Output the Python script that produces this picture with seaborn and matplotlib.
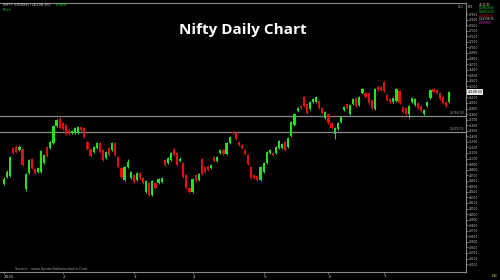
import numpy as np
import pandas as pd
import matplotlib
matplotlib.use("Agg")
import matplotlib.pyplot as plt
import seaborn as sns

# ---- data ----
opens = [24542, 24668, 24686, 25190, 25208, 25154, 25172, 24452, 24740, 24992,
         24812, 24758, 24758, 24920, 25208, 25190, 25280, 25586, 25712, 25640,
         25604, 25514, 25460, 25460, 25460, 25568, 25550, 25298, 25172, 25118,
         25190, 25280, 25154, 25010, 25190, 25154, 25280, 25028, 24830, 24614,
         24848, 24650, 24704, 24614, 24740, 24650, 24398, 24560, 24344, 24560,
         24560, 24578, 24974, 24920, 24974, 25172, 25100, 24956, 24920, 24704,
         24470, 24398, 24704, 24614, 24992, 24848, 24866, 24830, 25028, 24956,
         25100, 25154, 25082, 25280, 25478, 25460, 25298, 25244, 25154, 25064,
         24848, 24704, 24686, 24614, 24758, 24920, 25100, 25100, 25100, 25190,
         25190, 25298, 25208, 25406, 25604, 25856, 25946, 26108, 25982, 25892,
         26018, 26018, 26036, 25910, 25730, 25802, 25640, 25442, 25532, 25658,
         25874, 25982, 25802, 25982, 26090, 25964, 26180, 26180, 26180, 26054,
         25892, 26288, 26288, 26378, 26144, 26072, 26018, 26036, 26216, 25928,
         25910, 25802, 26018, 25964, 26000, 25946, 25802, 25946, 26090, 26252,
         26234, 26180, 26108, 26018, 26018]
closes = [24632, 24758, 25028, 25100, 25118, 25208, 24884, 24722, 24974, 24830,
          24740, 24830, 25136, 25064, 25046, 25298, 25586, 25694, 25550, 25532,
          25442, 25442, 25496, 25550, 25568, 25514, 25388, 25172, 25046, 25208,
          25280, 25118, 24974, 25118, 25064, 25280, 25064, 24848, 24668, 24848,
          24938, 24758, 24578, 24740, 24650, 24560, 24596, 24344, 24596, 24470,
          24632, 24650, 24884, 25010, 25100, 25064, 24884, 24992, 24668, 24470,
          24398, 24632, 24596, 24722, 24722, 24758, 24794, 24884, 24956, 25028,
          25154, 25082, 25280, 25388, 25460, 25352, 25244, 25190, 25082, 24902,
          24650, 24650, 24614, 24848, 24920, 25118, 25154, 25064, 25208, 25316,
          25262, 25154, 25370, 25658, 25802, 25910, 25910, 25946, 25820, 26018,
          26072, 26108, 25910, 25820, 25838, 25640, 25550, 25550, 25640, 25748,
          25928, 25910, 25964, 26072, 25946, 26108, 26252, 26108, 26000, 25910,
          26252, 26234, 26234, 26216, 26054, 26018, 26090, 26252, 26000, 25838,
          25802, 25946, 26090, 26072, 25910, 25856, 25874, 26018, 26234, 26198,
          26180, 26072, 26000, 25946, 26198]
highs = [24660, 24790, 25050, 25215, 25240, 25240, 25195, 24740, 25000, 25010,
         24830, 24850, 25160, 25090, 25230, 25320, 25600, 25720, 25740, 25660,
         25625, 25530, 25520, 25570, 25590, 25590, 25570, 25320, 25190, 25230,
         25300, 25300, 25170, 25140, 25210, 25305, 25300, 25045, 24850, 24870,
         24990, 24775, 24725, 24760, 24760, 24670, 24615, 24580, 24615, 24580,
         24650, 24670, 24995, 25030, 25120, 25195, 25120, 25030, 24940, 24720,
         24490, 24650, 24725, 24740, 25010, 24870, 24885, 24905, 25045, 25050,
         25175, 25175, 25300, 25410, 25500, 25480, 25315, 25265, 25175, 25085,
         24865, 24725, 24705, 24865, 24940, 25135, 25175, 25120, 25225, 25335,
         25280, 25315, 25390, 25675, 25820, 25930, 25965, 26130, 26000, 26035,
         26090, 26125, 26055, 25930, 25855, 25820, 25660, 25570, 25660, 25765,
         25950, 26000, 25985, 26090, 26110, 26125, 26275, 26200, 26200, 26075,
         26270, 26310, 26305, 26400, 26165, 26090, 26110, 26270, 26235, 25950,
         25930, 25965, 26110, 26090, 26020, 25965, 25890, 26035, 26255, 26270,
         26255, 26200, 26125, 26035, 26215]
lows = [24520, 24650, 24670, 25080, 25100, 25130, 24860, 24420, 24720, 24810,
        24720, 24740, 24740, 24900, 25030, 25170, 25260, 25570, 25530, 25510,
        25425, 25420, 25440, 25440, 25445, 25500, 25370, 25150, 25025, 25100,
        25170, 25100, 24950, 24990, 25045, 25135, 25045, 24830, 24650, 24595,
        24830, 24630, 24560, 24595, 24630, 24540, 24380, 24320, 24325, 24450,
        24540, 24560, 24865, 24900, 24955, 25045, 24865, 24930, 24650, 24450,
        24380, 24380, 24575, 24595, 24705, 24740, 24775, 24810, 24940, 24940,
        25080, 25065, 25065, 25260, 25440, 25335, 25225, 25170, 25065, 24885,
        24630, 24630, 24595, 24595, 24740, 24900, 25080, 25045, 25080, 25170,
        25170, 25135, 25190, 25390, 25585, 25840, 25890, 25930, 25800, 25875,
        26000, 26000, 25890, 25800, 25710, 25620, 25530, 25352, 25515, 25640,
        25855, 25890, 25785, 25965, 25930, 25945, 26160, 26090, 25980, 25890,
        25875, 26215, 26215, 26200, 26035, 26000, 26000, 26020, 25980, 25820,
        25785, 25730, 26000, 25945, 25890, 25840, 25785, 25930, 26070, 26180,
        26160, 26055, 25980, 25930, 26000]

support_levels = [25766.00, 25478.00]
y_ticks = list(range(23100, 27700, 100))
month_starts = [0, 19, 42, 61, 84, 105, 123]
month_labels = ["2025", "2", "3", "4", "5", "6", "7"]

GREEN = "#22e022"
RED = "#e01010"
GRAY = "#8a8a8a"

df = pd.DataFrame({"open": opens, "high": highs, "low": lows, "close": closes})
df["idx"] = np.arange(len(df))
df["up"] = df["close"] >= df["open"]

sns.set_theme(style="dark", rc={"axes.facecolor": "black",
                                "figure.facecolor": "black",
                                "axes.grid": False})
plt.rcParams["font.family"] = ["DejaVu Sans"]

fig = plt.figure(figsize=(5, 2.8), dpi=100)
ax = fig.add_axes([0.0, 0.0286, 0.932, 0.9607])
ax.set_facecolor("black")

cols = np.where(df["up"], GREEN, RED)
ax.vlines(df["idx"], df["low"], df["high"], colors=cols, lw=0.7, zorder=2)
body = np.maximum((df["close"] - df["open"]).abs(), 12)
ax.bar(df["idx"], body, bottom=np.minimum(df["open"], df["close"]),
       width=0.7, color=cols, linewidth=0, zorder=3)

for lvl in support_levels:
    ax.axhline(lvl, color=GRAY, lw=0.9, zorder=1)
    ax.text(0.997, lvl + 12, f"{lvl:.2f}", transform=ax.get_yaxis_transform(),
            ha="right", va="bottom", fontsize=2.2, color="#b0b0b0")

ax.set_xlim(-1.3, 149.5)
ax.set_ylim(22958, 27800)

last = closes[-1]
shown_ticks = [v for v in y_ticks if abs(v - last) > 60]
ax.yaxis.tick_right()
ax.set_yticks(shown_ticks)
ax.set_yticklabels([str(v) for v in shown_ticks])
ax.tick_params(axis="y", colors="#c8c8c8", labelsize=2.1, length=1.2,
               width=0.4, pad=1.0, right=True, left=False)
ax.set_xticks(month_starts)
ax.set_xticklabels(month_labels, ha="left")
ax.tick_params(axis="x", colors="#c8c8c8", labelsize=3.0, length=1.5,
               width=0.4, pad=1.0, bottom=True)

for s in ["top", "right", "bottom"]:
    ax.spines[s].set_color(GRAY)
    ax.spines[s].set_linewidth(0.8)
ax.spines["left"].set_visible(False)

# last price box
ax.text(1.004, last, f"{last:.2f}", transform=ax.get_yaxis_transform(),
        ha="left", va="center", fontsize=2.2, color="black",
        bbox=dict(boxstyle="square,pad=0.25", fc="#e6e6e6", ec="none"),
        clip_on=False, zorder=5)

# title and annotations
fig.text(0.486, 1 - 30 / 280, "Nifty Daily Chart", color="white",
         fontsize=11, fontweight="bold", ha="center", va="center",
         family=["Open Sans", "DejaVu Sans"])
fig.text(0.006, 1 - 3 / 280, "NIFTY 50(NSE) (26198.35),", color="#d0d0d0",
         fontsize=2.6, ha="left", va="top")
fig.text(0.112, 1 - 3 / 280, "0.58%", color=GREEN, fontsize=2.6,
         ha="left", va="top")
fig.text(0.006, 1 - 8 / 280, "Price", color=GREEN, fontsize=2.6,
         ha="left", va="top")
fig.text(458 / 500, 1 - 7 / 280, "LOG", color="#c8c8c8", fontsize=2.0,
         ha="left", va="center")
fig.text(467.5 / 500, 1 - 7 / 280, "BSE", color="#c8c8c8", fontsize=2.0,
         ha="left", va="center")
info = [("25/11/25", "#d0d0d0"), ("O:26018.00", GREEN), ("H:26215.00", GREEN),
        ("L:26000.00", RED), ("C:26198.35", "#d0d0d0"), ("V:180000", "#c040c0")]
for k, (t, c) in enumerate(info):
    fig.text(479 / 500, 1 - (4.5 + 3.7 * k) / 280, t, color=c, fontsize=2.0,
             ha="left", va="center")
fig.text(15 / 500, 1 - 269 / 280, "Source : www.SpiderSoftwareIndia.Com",
         color="#a0a0a0", fontsize=2.6, ha="left", va="center")
fig.text(494 / 500, 1 - 276 / 280, "EN", color="#b8b840", fontsize=3,
         ha="center", va="center")

fig.savefig("out.png", dpi=100, facecolor="black")
